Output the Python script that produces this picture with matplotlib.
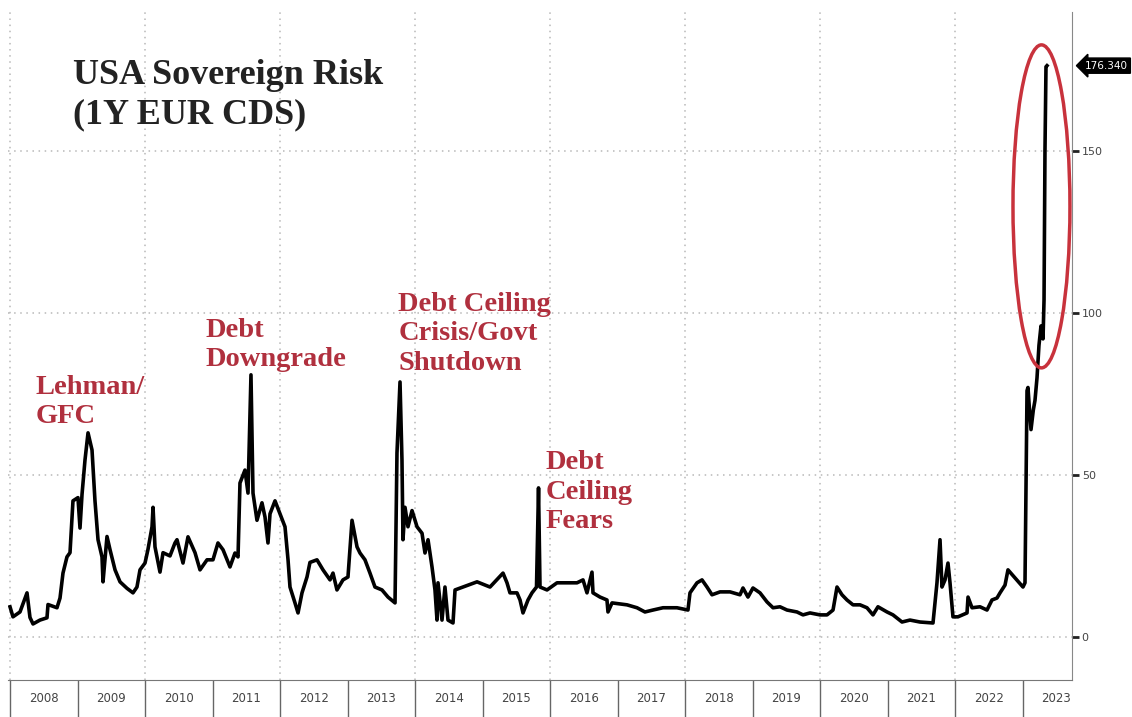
import matplotlib
matplotlib.use("Agg")
import matplotlib.pyplot as plt
import matplotlib.transforms as mtransforms
from matplotlib.patches import Ellipse

# decimal year / CDS spread (bp)
dates = [
    2008.000, 2008.044, 2008.148, 2008.252, 2008.296, 2008.341, 2008.444, 2008.548,
    2008.563, 2008.696, 2008.741, 2008.785, 2008.844, 2008.889, 2008.933, 2009.007,
    2009.037, 2009.067, 2009.111, 2009.156, 2009.215, 2009.259, 2009.304, 2009.363,
    2009.378, 2009.437, 2009.481, 2009.556, 2009.630, 2009.733, 2009.822, 2009.881,
    2009.926, 2010.000, 2010.044, 2010.104, 2010.119, 2010.148, 2010.222, 2010.267,
    2010.370, 2010.444, 2010.474, 2010.563, 2010.637, 2010.741, 2010.815, 2010.919,
    2011.007, 2011.081, 2011.156, 2011.259, 2011.333, 2011.378, 2011.407, 2011.481,
    2011.526, 2011.570, 2011.600, 2011.659, 2011.733, 2011.778, 2011.822, 2011.852,
    2011.926, 2012.000, 2012.074, 2012.119, 2012.148, 2012.222, 2012.267, 2012.326,
    2012.400, 2012.444, 2012.548, 2012.637, 2012.741, 2012.785, 2012.844, 2012.933,
    2013.007, 2013.067, 2013.141, 2013.185, 2013.259, 2013.333, 2013.407, 2013.511,
    2013.600, 2013.704, 2013.733, 2013.778, 2013.807, 2013.822, 2013.852, 2013.896,
    2013.956, 2014.030, 2014.104, 2014.148, 2014.193, 2014.252, 2014.296, 2014.326,
    2014.341, 2014.400, 2014.444, 2014.489, 2014.563, 2014.593, 2014.711, 2014.919,
    2015.111, 2015.304, 2015.363, 2015.407, 2015.511, 2015.556, 2015.600, 2015.674,
    2015.733, 2015.800, 2015.830, 2015.852, 2015.956, 2016.104, 2016.252, 2016.400,
    2016.489, 2016.548, 2016.622, 2016.637, 2016.741, 2016.844, 2016.859, 2016.919,
    2017.141, 2017.289, 2017.407, 2017.526, 2017.674, 2017.881, 2018.044, 2018.074,
    2018.178, 2018.252, 2018.326, 2018.400, 2018.519, 2018.667, 2018.815, 2018.859,
    2018.933, 2019.007, 2019.111, 2019.215, 2019.304, 2019.407, 2019.511, 2019.659,
    2019.748, 2019.852, 2020.000, 2020.104, 2020.193, 2020.252, 2020.326, 2020.400,
    2020.489, 2020.593, 2020.696, 2020.785, 2020.859, 2020.993, 2021.081, 2021.215,
    2021.333, 2021.481, 2021.674, 2021.733, 2021.778, 2021.807, 2021.852, 2021.896,
    2021.926, 2021.970, 2022.044, 2022.178, 2022.193, 2022.252, 2022.370, 2022.474,
    2022.548, 2022.622, 2022.667, 2022.741, 2022.785, 2022.889, 2023.007, 2023.037,
    2023.067, 2023.081, 2023.104, 2023.126, 2023.160, 2023.185, 2023.215, 2023.244,
    2023.274, 2023.304, 2023.319, 2023.333, 2023.348, 2023.363,
]
cds = [
    9.3, 6.2, 7.7, 13.6, 6.0, 4.0, 5.2, 5.9,
    10.0, 9.0, 12.0, 19.7, 24.7, 26.0, 42.0, 43.0,
    33.6, 44.0, 54.6, 63.0, 57.7, 42.0, 30.0, 24.7,
    17.0, 31.0, 27.0, 20.7, 17.0, 15.0, 13.6, 15.4,
    20.7, 22.8, 27.0, 34.0, 40.0, 27.8, 20.0, 26.0,
    25.0, 29.0, 30.0, 22.8, 30.9, 26.0, 20.7, 23.8,
    23.8, 29.0, 26.9, 21.6, 25.9, 24.7, 47.5, 51.5,
    44.4, 80.9, 44.4, 36.0, 41.4, 37.0, 29.0, 38.0,
    42.0, 38.0, 34.0, 23.8, 15.4, 10.5, 7.4, 13.6,
    18.5, 23.0, 23.8, 20.7, 17.6, 19.7, 14.5, 17.6,
    18.5, 36.0, 27.8, 25.9, 23.8, 19.7, 15.4, 14.5,
    12.3, 10.5, 56.8, 78.7, 54.6, 30.0, 40.0, 34.0,
    39.0, 34.0, 32.0, 25.9, 30.0, 21.6, 14.5, 5.2,
    16.7, 5.2, 15.4, 5.2, 4.3, 14.5, 15.4, 17.0,
    15.4, 19.7, 16.7, 13.6, 13.6, 11.4, 7.4, 11.4,
    13.6, 15.4, 46.0, 15.4, 14.5, 16.7, 16.7, 16.7,
    17.6, 13.6, 20.0, 13.6, 12.3, 11.4, 7.7, 10.5,
    9.9, 9.0, 7.7, 8.3, 9.0, 9.0, 8.3, 13.6,
    16.7, 17.6, 15.4, 13.0, 13.9, 13.9, 13.0, 15.1,
    12.3, 15.1, 13.6, 10.8, 9.0, 9.3, 8.3, 7.7,
    6.8, 7.4, 6.8, 6.8, 8.3, 15.4, 13.0, 11.4,
    9.9, 9.9, 9.0, 6.8, 9.3, 7.7, 6.8, 4.6,
    5.2, 4.6, 4.3, 16.7, 30.0, 15.4, 17.6, 22.8,
    16.7, 6.2, 6.2, 7.4, 12.3, 9.0, 9.3, 8.3,
    11.4, 12.0, 13.6, 16.0, 20.7, 18.2, 15.4, 16.7,
    76.0, 77.0, 70.0, 64.0, 70.0, 73.0, 80.0, 90.0,
    96.0, 92.0, 104.0, 150.0, 176.0, 176.34,
]

years = list(range(2008, 2024))
year_labels = [str(y) for y in years]
grid_years = [2008, 2010, 2012, 2014, 2016, 2018, 2020, 2022]
y_ticks = [0, 50, 100, 150]
last_value = 176.34

annotations = [
    ("Lehman/\nGFC", 2008.38, 81.0),
    ("Debt\nDowngrade", 2010.90, 98.5),
    ("Debt Ceiling\nCrisis/Govt\nShutdown", 2013.75, 106.5),
    ("Debt\nCeiling\nFears", 2015.93, 57.7),
]

RED = "#b0303e"


def plot_chart(filename="out.png"):
    fig = plt.figure(figsize=(11.32, 7.17), dpi=100)
    ax = fig.add_axes([8 / 1132, 1 - 680 / 717, 1064 / 1132, 668 / 717])

    ax.plot(dates, cds, color="black", lw=2.6, solid_joinstyle="round", zorder=3)

    ax.set_xlim(2008 - 2 / 67.5, 2008 + 1062 / 67.5)
    ax.set_ylim(-13.3, 192.9)

    # dotted grid
    ax.set_yticks(y_ticks)
    ax.grid(axis="y", color="#b8b8b8", linestyle=(0, (1, 3)), linewidth=1.1)
    for gx in grid_years:
        ax.axvline(gx, color="#b8b8b8", linestyle=(0, (1, 3)), linewidth=1.1, zorder=0)

    # right axis
    ax.yaxis.tick_right()
    ax.tick_params(axis="y", direction="out", length=5, width=2, color="#222",
                   labelsize=8, labelcolor="#444", pad=2)

    # years: separators as long major ticks, labels on minor ticks
    ax.set_xticks(years)
    ax.set_xticklabels([])
    ax.set_xticks([y + 0.5 for y in years], minor=True)
    ax.set_xticklabels(year_labels, minor=True)
    ax.tick_params(axis="x", which="major", direction="out", length=27, width=1, color="#666")
    ax.tick_params(axis="x", which="minor", length=0, labelsize=8.5, labelcolor="#444", pad=9)

    for side in ["top", "left"]:
        ax.spines[side].set_visible(False)
    ax.spines["right"].set_color("#888")
    ax.spines["bottom"].set_color("#777")

    # title (baseline of the last line)
    fig.text(73 / 1132, 1 - 123 / 717, "USA Sovereign Risk\n(1Y EUR CDS)",
             family="Liberation Serif", weight="bold", fontsize=26, color="#222",
             va="baseline", ha="left", linespacing=1.23)

    for txt, x, y in annotations:
        ax.text(x, y, txt, color=RED, family="Liberation Serif", weight="bold",
                fontsize=20.5, va="top", ha="left", linespacing=1.24, zorder=4)

    ax.add_patch(Ellipse((2023.281, 132.9), 0.844, 99.7, fill=False,
                         edgecolor="#c8323c", lw=2.5, zorder=5, clip_on=False))

    # last value tag
    trans = mtransforms.blended_transform_factory(ax.transAxes, ax.transData)
    ax.text(1.012, last_value, "176.340", transform=trans, color="white",
            fontsize=7.5, va="center", ha="left", clip_on=False,
            bbox=dict(boxstyle="larrow,pad=0.25", fc="black", ec="black"))

    fig.savefig(filename, dpi=100)
    plt.close(fig)


if __name__ == "__main__":
    plot_chart()
